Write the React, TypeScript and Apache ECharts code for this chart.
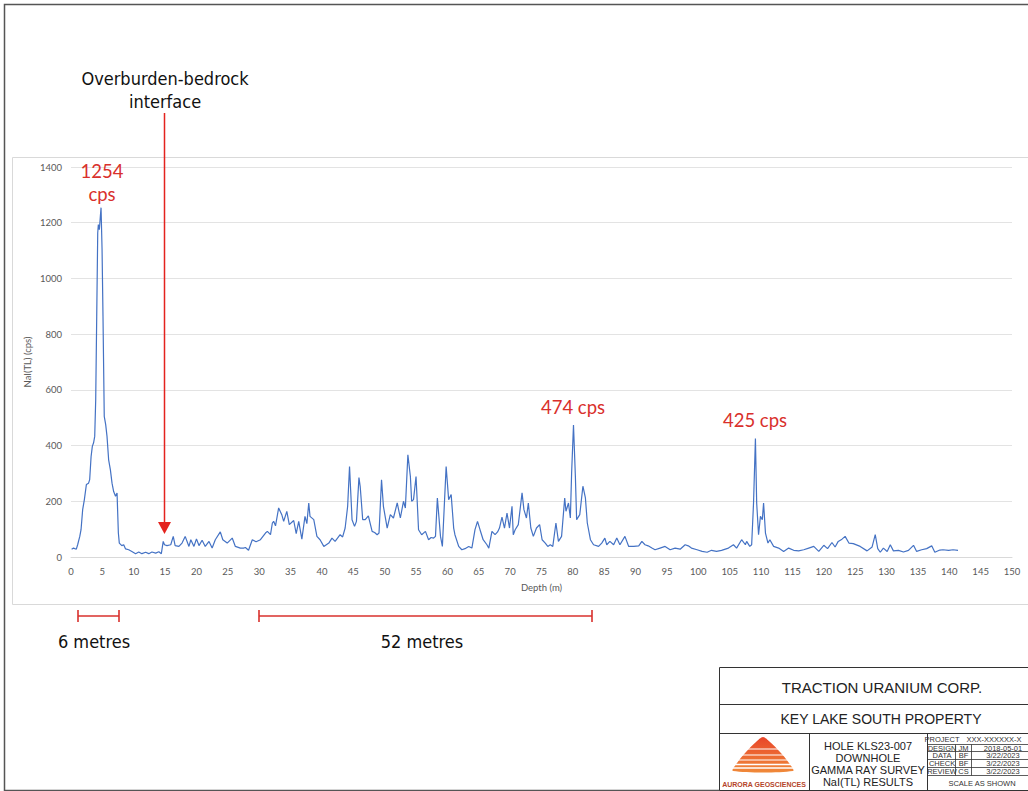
import React, { useEffect, useRef } from "react";
import * as echarts from "echarts";

// Depth (m) of each reading
const depths: number[] = [
  0.1, 0.4, 0.85, 1.06, 1.4, 1.6, 1.86, 2.13, 2.45, 2.8, 2.98, 3.2, 3.4, 3.6, 3.78, 3.94, 4.1, 4.26, 4.36, 4.52,
  4.68, 4.79, 4.95, 5.1, 5.3, 5.53, 5.74, 6.0, 6.28, 6.54, 6.8, 7.1, 7.34, 7.55, 7.7, 8.1, 8.4, 8.7, 9.2, 9.7,
  10.3, 10.8, 11.3, 11.9, 12.4, 12.9, 13.5, 14.0, 14.4, 14.7, 14.9, 15.3, 15.9, 16.3, 16.6, 17.2, 17.7, 18.2, 18.8, 19.1,
  19.6, 20.0, 20.4, 20.9, 21.4, 22.0, 22.5, 23.0, 23.8, 24.2, 24.9, 25.7, 26.2, 27.0, 27.5, 27.8, 28.3, 28.9, 29.5, 30.2,
  31.0, 31.3, 31.8, 32.1, 32.3, 32.6, 33.1, 33.6, 33.9, 34.4, 34.8, 35.5, 35.9, 36.3, 36.8, 37.3, 37.6, 37.9, 38.1, 38.7,
  39.2, 39.7, 40.3, 40.7, 41.1, 41.6, 42.1, 42.9, 43.3, 43.7, 44.1, 44.4, 44.8, 45.2, 45.5, 45.9, 46.1, 46.5, 46.9, 47.4,
  48.0, 48.4, 48.8, 49.1, 49.5, 49.8, 50.4, 50.9, 51.4, 52.0, 52.5, 53.0, 53.3, 53.7, 54.1, 54.3, 54.6, 55.0, 55.4, 55.9,
  56.5, 57.0, 57.4, 57.8, 58.1, 58.4, 58.9, 59.2, 59.8, 60.2, 60.6, 61.0, 61.2, 61.8, 62.3, 62.8, 63.4, 63.9, 64.4, 64.8,
  65.2, 65.7, 66.3, 66.6, 67.1, 67.6, 68.0, 68.3, 68.7, 69.1, 69.5, 69.9, 70.3, 70.5, 70.8, 71.3, 71.9, 72.2, 72.6, 72.9,
  73.3, 73.7, 74.2, 74.7, 75.1, 75.6, 76.0, 76.4, 76.8, 77.3, 77.7, 78.2, 78.7, 78.9, 79.3, 79.6, 79.8, 80.1, 80.4, 80.6,
  81.1, 81.6, 82.0, 82.3, 82.8, 83.3, 84.1, 84.6, 85.1, 85.4, 85.9, 86.5, 87.0, 87.5, 88.3, 88.9, 89.7, 90.5, 91.0, 91.5,
  92.0, 92.6, 93.1, 93.9, 94.7, 95.5, 96.3, 97.1, 97.9, 98.4, 98.9, 99.8, 100.6, 101.4, 102.1, 102.9, 103.7, 104.8, 105.6, 106.1,
  106.9, 107.5, 107.7, 108.2, 108.5, 108.8, 109.1, 109.3, 109.6, 109.9, 110.2, 110.4, 110.7, 111.1, 111.4, 112.0, 112.8, 113.6, 114.4, 115.2,
  116.0, 116.8, 117.6, 118.4, 119.2, 120.0, 120.6, 121.3, 121.8, 122.3, 122.9, 123.4, 124.0, 124.7, 125.8, 126.9, 127.7, 128.2, 128.6, 129.0,
  129.5, 130.1, 130.6, 131.1, 131.9, 132.7, 133.5, 134.3, 134.8, 135.6, 136.4, 137.2, 137.7, 138.5, 139.0, 139.9, 140.6, 141.4,
];

// NaI(TL) counts per second at each depth
const cps: number[] = [
  28, 32, 28, 44, 74, 98, 170, 206, 260, 265, 278, 360, 397, 410, 433, 565, 864, 1163, 1193, 1175,
  1223, 1254, 1105, 864, 505, 475, 433, 349, 313, 265, 235, 218, 230, 86, 50, 41, 44, 29, 26, 20,
  12, 18, 12, 17, 12, 18, 14, 19, 12, 56, 44, 41, 44, 74, 41, 38, 50, 74, 38, 62,
  38, 65, 41, 60, 38, 56, 32, 62, 90, 62, 50, 68, 38, 32, 32, 34, 24, 62, 55, 62,
  86, 92, 80, 122, 128, 112, 176, 152, 128, 164, 116, 131, 84, 128, 64, 146, 120, 194, 146, 134,
  74, 62, 38, 44, 50, 68, 56, 80, 72, 104, 182, 325, 134, 110, 128, 285, 253, 134, 134, 148,
  92, 88, 80, 86, 277, 182, 104, 152, 140, 194, 140, 200, 176, 367, 289, 200, 206, 289, 98, 80,
  92, 62, 70, 68, 74, 212, 74, 38, 325, 206, 224, 104, 80, 38, 26, 30, 38, 32, 98, 128,
  98, 62, 44, 32, 92, 80, 90, 104, 143, 104, 158, 104, 182, 80, 98, 116, 230, 170, 140, 194,
  104, 74, 104, 116, 62, 50, 38, 44, 38, 122, 56, 74, 212, 164, 194, 140, 301, 474, 290, 134,
  152, 254, 212, 122, 62, 44, 38, 50, 68, 44, 56, 44, 68, 44, 74, 38, 38, 40, 56, 44,
  40, 32, 26, 32, 38, 26, 32, 28, 44, 40, 32, 26, 20, 17, 24, 20, 24, 32, 44, 32,
  62, 44, 56, 38, 44, 194, 425, 194, 80, 146, 134, 194, 86, 50, 62, 38, 32, 20, 32, 24,
  22, 26, 32, 38, 20, 42, 30, 52, 36, 56, 64, 74, 50, 48, 38, 22, 36, 80, 30, 17,
  32, 20, 44, 22, 24, 18, 24, 42, 20, 26, 30, 40, 17, 25, 26, 24, 26, 24,
];

const xTicks = { min: 0, max: 150, interval: 5 };
const yTicks = { min: 0, max: 1400, interval: 200 };

const peakLabels = ["1254", "cps", "474 cps", "425 cps"];
const titleRows = ["TRACTION URANIUM CORP.", "KEY LAKE SOUTH PROPERTY"];
const holeLines = ["HOLE KLS23-007", "DOWNHOLE", "GAMMA RAY SURVEY", "NaI(TL) RESULTS"];
const infoRows = [
  ["PROJECT", "", "XXX-XXXXXX-X"],
  ["DESIGN", "JM", "2018-05-01"],
  ["DATA", "BF", "3/22/2023"],
  ["CHECK", "BF", "3/22/2023"],
  ["REVIEW", "CS", "3/22/2023"],
];

const RED = "#d9302c";
const NARROW = "'DejaVu Sans Condensed', 'Liberation Sans Narrow', 'DejaVu Sans', sans-serif";
const ARIAL = "'Liberation Sans', Arial, sans-serif";
const CAL = "Lato, 'Open Sans', sans-serif";

export default function App() {
  const ref = useRef<HTMLDivElement>(null);

  useEffect(() => {
    if (!ref.current) return;
    const chart = echarts.init(ref.current, undefined, { renderer: "svg" });

    const data = depths.map((d, i) => [d, cps[i]]);

    const txt = (x: number, y: number, text: string, size: number, fill: string, family: string, extra: any = {}) => ({
      type: "text",
      x,
      y,
      style: { text, fontSize: size, fill, fontFamily: family, align: "center", verticalAlign: "middle", ...extra },
      z: 10,
    });
    const ln = (x1: number, y1: number, x2: number, y2: number, stroke: string, w = 1) => ({
      type: "line",
      shape: { x1, y1, x2, y2 },
      style: { stroke, lineWidth: w },
      z: 10,
    });

    const graphics: any[] = [];
    // outer frame
    graphics.push({
      type: "rect",
      shape: { x: 4.5, y: 4.5, width: 1200, height: 786 },
      style: { fill: "none", stroke: "#555", lineWidth: 1.5 },
      z: 1,
    });
    // chart panel
    graphics.push({
      type: "rect",
      shape: { x: 12.5, y: 157.5, width: 1200, height: 447 },
      style: { fill: "none", stroke: "#d9d9d9", lineWidth: 1 },
      z: 1,
    });

    // overburden annotation
    graphics.push(txt(165, 78, "Overburden-bedrock", 18, "#111", NARROW));
    graphics.push(txt(165, 101, "interface", 18, "#111", NARROW));
    graphics.push(ln(164.5, 113, 164.5, 524, "#e4231e", 1.5));
    graphics.push({
      type: "polygon",
      shape: { points: [[158, 522], [171, 522], [164.5, 534]] },
      style: { fill: "#e4231e" },
      z: 10,
    });

    // peak labels
    graphics.push(txt(102, 171, peakLabels[0], 18.5, RED, CAL));
    graphics.push(txt(102, 194, peakLabels[1], 18.5, RED, CAL));
    graphics.push(txt(573, 407, peakLabels[2], 18.5, RED, CAL));
    graphics.push(txt(755, 420, peakLabels[3], 18.5, RED, CAL));

    // brackets
    const bracket = (a: number, b: number) => {
      graphics.push(ln(a, 616, b, 616, RED, 1.6));
      graphics.push(ln(a, 610, a, 622, RED, 1.6));
      graphics.push(ln(b, 610, b, 622, RED, 1.6));
    };
    bracket(78, 119);
    bracket(259, 592);
    graphics.push(txt(94, 641, "6 metres", 18, "#111", NARROW));
    graphics.push(txt(422, 641, "52 metres", 18, "#111", NARROW));

    // title block
    const BL = 719.5, BR = 1045, BT = 667.5, BB = 790.5;
    graphics.push({
      type: "rect",
      shape: { x: BL, y: BT, width: BR - BL, height: BB - BT },
      style: { fill: "#fff", stroke: "#333", lineWidth: 1 },
      z: 9,
    });
    graphics.push(ln(BL, 704.5, BR, 704.5, "#333"));
    graphics.push(ln(BL, 733.5, BR, 733.5, "#333"));
    graphics.push(ln(809.5, 733.5, 809.5, BB, "#333"));
    graphics.push(ln(927.5, 733.5, 927.5, BB, "#333"));
    graphics.push(txt(882, 687, titleRows[0], 15, "#222", ARIAL));
    graphics.push(txt(881, 719, titleRows[1], 14, "#222", ARIAL));
    holeLines.forEach((t, i) => graphics.push(txt(868, 745.5 + i * 12.3, t, 11, "#222", ARIAL)));

    // info table
    const rowLines = [744.5, 751.5, 759.5, 767.5, 775.5];
    rowLines.forEach((y) => graphics.push(ln(927.5, y, BR, y, "#333", 0.8)));
    graphics.push(ln(955.5, 744.5, 955.5, 775.5, "#333", 0.8));
    graphics.push(ln(971.5, 744.5, 971.5, 775.5, "#333", 0.8));
    const rowCenters = [739, 748, 755.5, 763.5, 771.5];
    infoRows.forEach((r, i) => {
      const y = rowCenters[i];
      graphics.push(txt(942, y, r[0], 7.5, "#333", ARIAL));
      if (i === 0) {
        graphics.push(txt(994, y, r[2], 7.5, "#333", ARIAL));
      } else {
        graphics.push(txt(963.5, y, r[1], 7.5, "#333", ARIAL));
        graphics.push(txt(1003, y, r[2], 7.5, "#333", ARIAL));
      }
    });
    graphics.push(txt(982, 783, "SCALE AS SHOWN", 7.5, "#333", ARIAL));

    // logo (dome with stripes)
    graphics.push({
      type: "polygon",
      shape: {
        points: [[763, 737], [770, 742], [780, 752], [789, 763], [793, 771], [733, 771], [737, 763], [746, 752], [756, 742]],
        smooth: 0.3,
      },
      style: {
        fill: {
          type: "linear", x: 0, y: 0, x2: 0, y2: 1,
          colorStops: [{ offset: 0, color: "#e8452a" }, { offset: 1, color: "#f08a3a" }],
        },
      },
      z: 10,
    });
    [749, 755, 760, 764.5, 768].forEach((y, i) =>
      graphics.push({
        type: "line",
        shape: { x1: 730, y1: y, x2: 796, y2: y },
        style: { stroke: "#fff", lineWidth: 1 + i * 0.1 },
        z: 11,
      })
    );
    graphics.push(txt(764, 784.5, "AURORA GEOSCIENCES", 7, "#b5452a", ARIAL, { fontWeight: "bold" }));

    chart.setOption({
      animation: false,
      backgroundColor: "#fff",
      grid: { left: 71, right: 16, top: 167, bottom: 234, containLabel: false },
      xAxis: {
        type: "value",
        min: xTicks.min,
        max: xTicks.max,
        interval: xTicks.interval,
        name: "Depth (m)",
        nameLocation: "middle",
        nameGap: 25,
        nameMoveOverlap: false,
        nameTextStyle: { color: "#595959", fontSize: 9.5, fontFamily: CAL },
        axisLine: { show: true, lineStyle: { color: "#d9d9d9", width: 1 } },
        axisTick: { show: false },
        splitLine: { show: false },
        axisLabel: { color: "#595959", fontSize: 9.5, fontFamily: CAL, margin: 9 },
      },
      yAxis: {
        type: "value",
        min: yTicks.min,
        max: yTicks.max,
        interval: yTicks.interval,
        name: "NaI(TL) (cps)",
        nameLocation: "middle",
        nameGap: 39,
        nameMoveOverlap: false,
        nameRotate: 90,
        nameTextStyle: { color: "#595959", fontSize: 9.5, fontFamily: CAL },
        axisLine: { show: false },
        axisTick: { show: false },
        splitLine: { show: true, lineStyle: { color: "#e3e3e3", width: 1 } },
        axisLabel: { color: "#595959", fontSize: 9.5, fontFamily: CAL, margin: 9, formatter: (v: number) => String(v) },
      },
      series: [
        {
          type: "line",
          data,
          showSymbol: false,
          symbol: "none",
          lineStyle: { color: "#4472c4", width: 1.2 },
          z: 5,
        },
      ],
      graphic: graphics,
    });

    return () => chart.dispose();
  }, []);

  return (
    <div
      ref={ref}
      style={{ position: "fixed", left: 0, top: 0, width: 1028, height: 791, background: "#fff" }}
    />
  );
}
